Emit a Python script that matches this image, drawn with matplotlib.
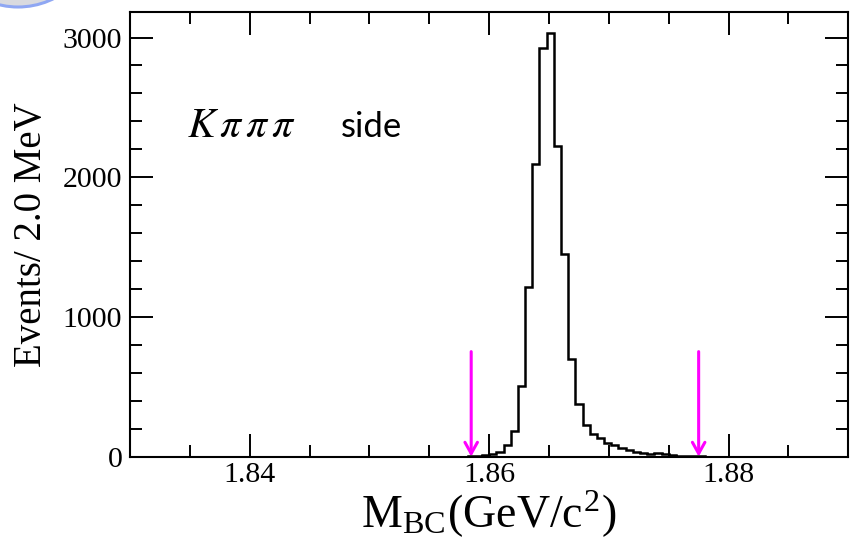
import numpy as np
import matplotlib
matplotlib.use("Agg")
import matplotlib.pyplot as plt
from matplotlib.patches import Circle
from matplotlib.ticker import MultipleLocator

plt.rcParams["mathtext.fontset"] = "stix"

# M_BC distribution, 100 bins between 1.83 and 1.89 GeV/c^2
x_min, x_max, n_bins = 1.83, 1.89, 100
counts = [0] * 47 + [
    2, 4,                             # bins 47-48
    12, 21, 36, 84, 184, 508, 1217,   # bins 49-55
    2095, 2923, 3035, 2226, 1451,     # bins 56-60
    701, 375, 229, 165, 131, 101,     # bins 61-66
    82, 64, 46, 36, 26, 22, 26, 22,   # bins 67-74
    12, 5, 3, 2, 2, 1, 1,             # bins 75-81
] + [0] * 18

# signal-region cut values and arrow height
cut_low, cut_high = 1.8585, 1.8775
arrow_top = 752

y_max = 3185
x_major = [1.84, 1.86, 1.88]
y_major = [0, 1000, 2000, 3000]

W, H = 855, 543
fig = plt.figure(figsize=(W / 100, H / 100), dpi=100)
ax = fig.add_axes([130 / W, 1 - 456.7 / H, (848.3 - 130) / W, (456.7 - 11.7) / H])

edges = np.linspace(x_min, x_max, n_bins + 1)
ax.stairs(counts, edges, color="black", lw=1.8, baseline=None)

for cut in (cut_low, cut_high):
    ax.annotate("", xy=(cut, 0), xytext=(cut, arrow_top),
                arrowprops=dict(arrowstyle="->,head_length=0.45,head_width=0.25",
                                color="#ff00ff", lw=2.2, shrinkA=0, shrinkB=0,
                                mutation_scale=18))

ax.set_xlim(x_min, x_max)
ax.set_ylim(0, y_max)
ax.set_xticks(x_major)
ax.set_yticks(y_major)
ax.xaxis.set_minor_locator(MultipleLocator(0.005))
ax.yaxis.set_minor_locator(MultipleLocator(200))
ax.tick_params(which="both", direction="in", top=True, right=True, width=1.4,
               labelsize=21.5, labelfontfamily="Liberation Serif")
ax.tick_params(which="major", length=16.5)
ax.tick_params(which="minor", length=8.6)
ax.tick_params(axis="x", which="major", pad=4)
ax.tick_params(axis="y", which="major", pad=5.5)
for s in ax.spines.values():
    s.set_linewidth(1.5)

fig.text(32 / W, 1 - 235 / H, "Events/ 2.0 MeV", rotation=90, ha="center",
         va="center", fontsize=28, family="Liberation Serif")
fig.text(489 / W, 1 - 528 / H,
         r"M$_{\mathregular{BC}}$(GeV/c$^{\mathregular{2}}$)",
         ha="center", va="baseline", fontsize=33, family="Liberation Serif")

# channel label: italic symbols followed by plain word
fig.text(187 / W, 1 - 137 / H, r"$K\,\pi\,\pi\,\pi$", ha="left", va="baseline",
         fontsize=30)
fig.text(341 / W, 1 - 137 / H, "side", ha="left", va="baseline",
         fontsize=25, family="Lato")

# partial badge in the top-left corner
badge = Circle((18, H + 73), 80, transform=None, facecolor="#d9dadf",
               edgecolor="#8fa7f3", lw=2.2, zorder=5)
fig.patches.append(badge)

fig.savefig("out.png", dpi=100)
